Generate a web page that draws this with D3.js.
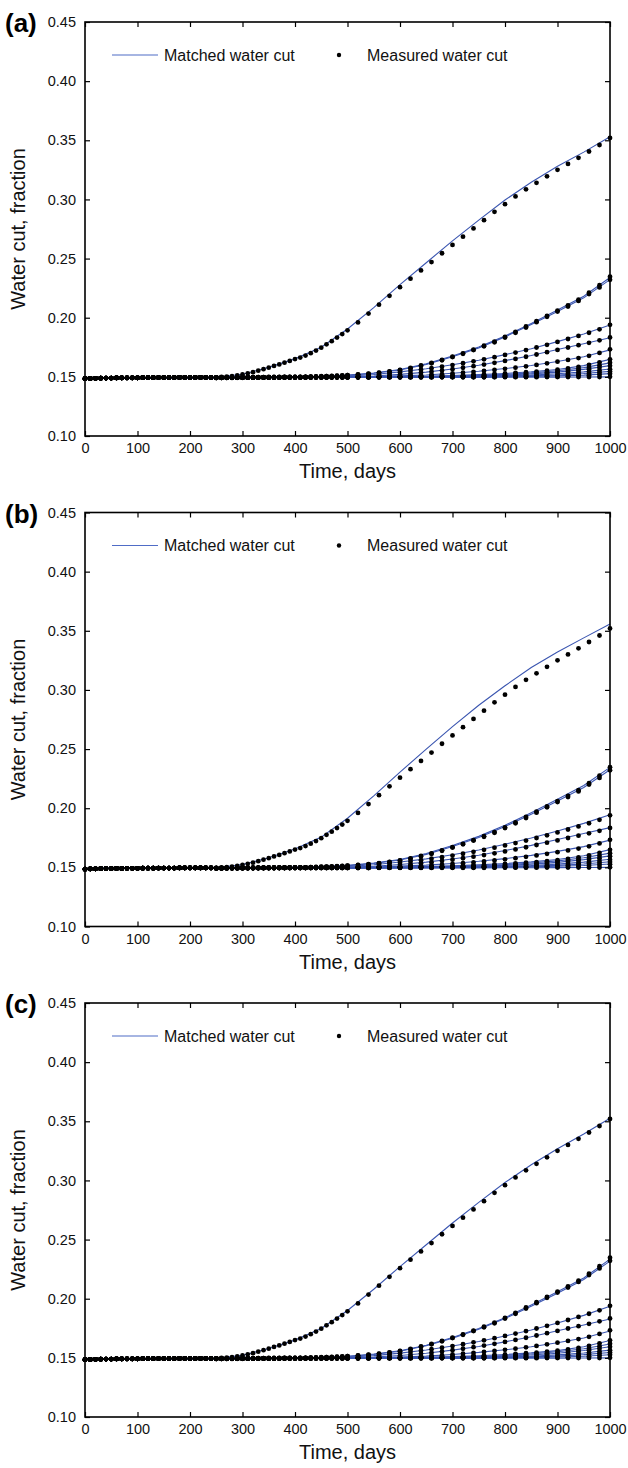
<!DOCTYPE html>
<html><head><meta charset="utf-8">
<script src="https://cdn.jsdelivr.net/npm/d3@7"></script>
<style>body{margin:0;background:#fff;} svg text{font-family:"Liberation Sans",Arial,sans-serif;}</style>
</head><body><svg id="c" width="628" height="1468"></svg>
<script>
const panelLabels = ["(a)", "(b)", "(c)"];
const xTicks = [0, 100, 200, 300, 400, 500, 600, 700, 800, 900, 1000];
const yTicks = [0.10, 0.15, 0.20, 0.25, 0.30, 0.35, 0.40, 0.45];
const legendLabels = ["Matched water cut", "Measured water cut"];
const xTitle = "Time, days";
const yTitle = "Water cut, fraction";

// measured days: shared early period (all wells coincide) and late period
const earlyDays = [0,10,20,30,40,50,60,70,80,90,100,110,120,130,140,150,160,170,180,190,200,210,220,230,240];
const earlyValues = [.1485,.1487,.1488,.1489,.1490,.1490,.1491,.1491,.1492,.1492,.1492,.1493,.1493,.1493,.1494,.1494,.1494,.1494,.1495,.1495,.1495,.1495,.1495,.1495,.1495];
const lateDays = [250,260,270,280,290,300,310,320,330,340,350,360,370,380,390,400,410,420,430,440,450,460,470,480,490,500,
  520,540,560,580,600,620,640,660,680,700,720,740,760,780,800,820,840,860,880,900,920,940,960,980,1000];

const measured1 = [.1495,.1500,.1502,.1506,.1512,.1520,.1530,.1540,.1552,.1565,.1578,.1592,.1605,.1620,.1635,.1650,.1663,.1680,.1700,.1722,.1747,.1775,.1802,.1832,.1862,.1893,
  .1960,.2035,.2110,.2185,.2258,.2330,.2400,.2470,.2545,.2615,.2685,.2755,.2825,.2895,.2960,.3025,.3085,.3140,.3195,.3250,.3300,.3352,.3405,.3460,.3520];
const measured2 = [.1495,.1495,.1496,.1496,.1497,.1497,.1497,.1498,.1498,.1498,.1499,.1499,.1499,.1500,.1500,.1500,.1500,.1500,.1502,.1503,.1505,.1506,.1508,.1510,.1512,.1515,
  .1521,.1528,.1536,.1546,.1558,.1575,.1596,.1618,.1644,.1671,.1699,.1730,.1763,.1798,.1838,.1880,.1926,.1970,.2015,.2060,.2105,.2152,.2212,.2275,.2347];
const measured3 = [.1494,.1494,.1495,.1495,.1496,.1496,.1496,.1497,.1497,.1497,.1498,.1498,.1498,.1499,.1499,.1499,.1499,.1500,.1501,.1502,.1503,.1505,.1507,.1509,.1511,.1514,
  .1519,.1526,.1534,.1544,.1556,.1572,.1592,.1614,.1640,.1667,.1695,.1726,.1758,.1792,.1832,.1873,.1917,.1962,.2008,.2052,.2095,.2142,.2200,.2256,.2320];
const measured4 = [.1494,.1494,.1494,.1495,.1495,.1495,.1495,.1496,.1496,.1496,.1496,.1497,.1497,.1497,.1498,.1498,.1498,.1499,.1499,.1500,.1500,.1501,.1502,.1503,.1504,.1505,
  .1510,.1516,.1523,.1531,.1540,.1550,.1561,.1573,.1586,.1600,.1615,.1631,.1648,.1666,.1685,.1705,.1726,.1748,.1771,.1795,.1820,.1846,.1873,.1902,.1940];
const measured5 = [.1494,.1494,.1494,.1494,.1495,.1495,.1495,.1495,.1495,.1496,.1496,.1496,.1496,.1497,.1497,.1497,.1497,.1498,.1498,.1498,.1499,.1499,.1499,.1500,.1500,.1500,
  .1502,.1505,.1509,.1514,.1520,.1527,.1535,.1544,.1554,.1565,.1577,.1590,.1604,.1619,.1635,.1652,.1670,.1689,.1709,.1728,.1748,.1768,.1788,.1809,.1833];
const measured6 = [.1493,.1493,.1494,.1494,.1494,.1494,.1495,.1495,.1495,.1495,.1495,.1496,.1496,.1496,.1496,.1497,.1497,.1497,.1497,.1498,.1498,.1498,.1498,.1499,.1499,.1499,
  .1500,.1501,.1502,.1504,.1507,.1510,.1514,.1518,.1523,.1529,.1535,.1542,.1550,.1559,.1568,.1578,.1589,.1601,.1614,.1628,.1643,.1659,.1678,.1702,.1733];
const measured7 = [.1493,.1493,.1493,.1494,.1494,.1494,.1494,.1495,.1495,.1495,.1495,.1495,.1496,.1496,.1496,.1496,.1496,.1497,.1497,.1497,.1497,.1498,.1498,.1498,.1498,.1499,
  .1499,.1500,.1500,.1501,.1502,.1503,.1505,.1507,.1509,.1511,.1514,.1517,.1521,.1525,.1529,.1534,.1539,.1545,.1552,.1560,.1571,.1585,.1602,.1623,.1648];
const measured8 = [.1493,.1493,.1493,.1493,.1494,.1494,.1494,.1494,.1495,.1495,.1495,.1495,.1495,.1496,.1496,.1496,.1496,.1496,.1497,.1497,.1497,.1497,.1497,.1498,.1498,.1498,
  .1499,.1499,.1500,.1500,.1501,.1502,.1503,.1504,.1505,.1507,.1509,.1511,.1514,.1517,.1520,.1524,.1528,.1533,.1540,.1548,.1557,.1567,.1580,.1598,.1620];
const measured9 = [.1492,.1493,.1493,.1493,.1493,.1494,.1494,.1494,.1494,.1495,.1495,.1495,.1495,.1495,.1496,.1496,.1496,.1496,.1496,.1496,.1497,.1497,.1497,.1497,.1497,.1497,
  .1498,.1499,.1499,.1500,.1500,.1501,.1501,.1502,.1503,.1504,.1505,.1507,.1509,.1511,.1514,.1517,.1521,.1525,.1531,.1537,.1545,.1554,.1564,.1577,.1593];
const measured10 = [.1492,.1492,.1493,.1493,.1493,.1493,.1494,.1494,.1494,.1494,.1494,.1495,.1495,.1495,.1495,.1495,.1495,.1496,.1496,.1496,.1496,.1496,.1496,.1497,.1497,.1497,
  .1498,.1498,.1499,.1499,.1499,.1500,.1500,.1500,.1501,.1501,.1502,.1503,.1504,.1505,.1507,.1509,.1511,.1514,.1518,.1523,.1528,.1535,.1543,.1553,.1565];
const measured11 = [.1492,.1492,.1492,.1493,.1493,.1493,.1493,.1494,.1494,.1494,.1494,.1494,.1495,.1495,.1495,.1495,.1495,.1495,.1495,.1496,.1496,.1496,.1496,.1496,.1496,.1496,
  .1497,.1497,.1498,.1498,.1498,.1499,.1499,.1499,.1500,.1500,.1500,.1501,.1501,.1502,.1503,.1504,.1505,.1507,.1510,.1513,.1517,.1522,.1528,.1536,.1546];
const measured12 = [.1491,.1492,.1492,.1492,.1493,.1493,.1493,.1493,.1493,.1494,.1494,.1494,.1494,.1494,.1494,.1495,.1495,.1495,.1495,.1495,.1495,.1495,.1496,.1496,.1496,.1496,
  .1496,.1496,.1497,.1497,.1497,.1497,.1498,.1498,.1498,.1498,.1499,.1499,.1499,.1499,.1500,.1500,.1501,.1502,.1503,.1504,.1506,.1509,.1513,.1519,.1527];
const measured13 = [.1491,.1491,.1492,.1492,.1492,.1492,.1493,.1493,.1493,.1493,.1493,.1493,.1494,.1494,.1494,.1494,.1494,.1494,.1494,.1494,.1494,.1494,.1494,.1494,.1494,.1494,
  .1494,.1494,.1495,.1495,.1495,.1495,.1495,.1495,.1496,.1496,.1496,.1496,.1496,.1497,.1497,.1497,.1497,.1497,.1498,.1498,.1498,.1498,.1499,.1499,.1500];
const measuredSeries = [measured1,measured2,measured3,measured4,measured5,measured6,measured7,measured8,measured9,measured10,measured11,measured12,measured13];

// matched (simulated) water cut
const matchedDays = [0,250,300,350,400,450,500,550,600,650,700,750,800,850,900,950,1000];
const matchedA = [
  [.1490,.1497,.1522,.1580,.1652,.1750,.1905,.2085,.2280,.2465,.2650,.2825,.2995,.3145,.3280,.3400,.3530],
  [.1490,.1496,.1498,.1499,.1501,.1505,.1515,.1533,.1562,.1610,.1676,.1752,.1845,.1952,.2065,.2182,.2340],
  [.1490,.1495,.1497,.1498,.1500,.1503,.1512,.1530,.1558,.1605,.1670,.1745,.1838,.1942,.2052,.2168,.2322],
  [.1490,.1495,.1496,.1497,.1498,.1500,.1506,.1520,.1542,.1568,.1602,.1640,.1688,.1738,.1798,.1862,.1938],
  [.1490,.1495,.1495,.1496,.1497,.1498,.1501,.1507,.1521,.1540,.1567,.1598,.1637,.1680,.1731,.1780,.1830],
  [.1490,.1494,.1495,.1495,.1496,.1497,.1499,.1502,.1508,.1516,.1530,.1547,.1570,.1596,.1630,.1670,.1728],
  [.1490,.1494,.1494,.1495,.1495,.1496,.1498,.1500,.1502,.1505,.1511,.1519,.1529,.1543,.1562,.1595,.1648],
  [.1490,.1494,.1494,.1495,.1495,.1496,.1497,.1499,.1501,.1503,.1506,.1512,.1521,.1534,.1552,.1578,.1618],
  [.1490,.1494,.1494,.1494,.1495,.1495,.1496,.1498,.1500,.1501,.1503,.1508,.1515,.1525,.1540,.1563,.1595],
  [.1490,.1493,.1494,.1494,.1494,.1495,.1496,.1497,.1498,.1500,.1501,.1504,.1509,.1515,.1526,.1542,.1566],
  [.1490,.1493,.1493,.1494,.1494,.1495,.1495,.1496,.1497,.1498,.1500,.1502,.1505,.1509,.1516,.1528,.1546],
  [.1490,.1493,.1493,.1494,.1494,.1494,.1495,.1495,.1496,.1497,.1498,.1499,.1501,.1503,.1508,.1515,.1527],
  [.1490,.1493,.1493,.1493,.1494,.1494,.1494,.1495,.1495,.1495,.1496,.1496,.1497,.1497,.1498,.1499,.1500]
];
const matchedB = [
  [.1490,.1497,.1523,.1582,.1656,.1756,.1915,.2105,.2305,.2500,.2690,.2870,.3035,.3190,.3320,.3440,.3558],
  [.1490,.1496,.1498,.1499,.1501,.1506,.1517,.1537,.1567,.1617,.1684,.1762,.1855,.1962,.2075,.2192,.2345],
  [.1490,.1495,.1497,.1498,.1500,.1504,.1514,.1533,.1562,.1610,.1676,.1752,.1845,.1950,.2060,.2175,.2325],
  [.1490,.1495,.1496,.1497,.1498,.1500,.1507,.1522,.1545,.1572,.1607,.1647,.1696,.1748,.1808,.1872,.1945],
  [.1490,.1495,.1495,.1496,.1497,.1498,.1502,.1509,.1524,.1544,.1571,.1603,.1642,.1686,.1736,.1786,.1836],
  [.1490,.1494,.1495,.1495,.1496,.1497,.1499,.1503,.1510,.1519,.1533,.1551,.1574,.1601,.1635,.1675,.1730],
  [.1490,.1494,.1494,.1495,.1495,.1496,.1498,.1500,.1503,.1507,.1513,.1521,.1532,.1546,.1566,.1598,.1650],
  [.1490,.1494,.1494,.1495,.1495,.1496,.1497,.1499,.1501,.1504,.1508,.1514,.1523,.1537,.1555,.1581,.1620],
  [.1490,.1494,.1494,.1494,.1495,.1495,.1496,.1498,.1500,.1502,.1504,.1509,.1517,.1527,.1542,.1565,.1597],
  [.1490,.1493,.1494,.1494,.1494,.1495,.1496,.1497,.1498,.1500,.1502,.1505,.1510,.1516,.1527,.1544,.1568],
  [.1490,.1493,.1493,.1494,.1494,.1495,.1495,.1496,.1497,.1498,.1500,.1502,.1505,.1510,.1517,.1529,.1547],
  [.1490,.1493,.1493,.1494,.1494,.1494,.1495,.1495,.1496,.1497,.1498,.1499,.1501,.1504,.1509,.1516,.1528],
  [.1490,.1493,.1493,.1493,.1494,.1494,.1494,.1495,.1495,.1495,.1496,.1496,.1497,.1497,.1498,.1499,.1500]
];
const matchedC = [
  [.1490,.1497,.1521,.1579,.1650,.1748,.1900,.2080,.2272,.2456,.2640,.2815,.2982,.3132,.3268,.3392,.3525],
  [.1490,.1496,.1498,.1499,.1501,.1505,.1514,.1532,.1560,.1607,.1672,.1748,.1840,.1946,.2058,.2175,.2335],
  [.1490,.1495,.1497,.1498,.1500,.1503,.1511,.1529,.1556,.1602,.1666,.1741,.1833,.1937,.2047,.2163,.2318],
  [.1490,.1495,.1496,.1497,.1498,.1500,.1506,.1519,.1540,.1566,.1600,.1638,.1685,.1735,.1795,.1859,.1936],
  [.1490,.1495,.1495,.1496,.1497,.1498,.1501,.1507,.1520,.1539,.1565,.1596,.1635,.1678,.1729,.1778,.1829],
  [.1490,.1494,.1495,.1495,.1496,.1497,.1499,.1502,.1507,.1515,.1529,.1546,.1568,.1594,.1628,.1668,.1727],
  [.1490,.1494,.1494,.1495,.1495,.1496,.1498,.1500,.1502,.1505,.1510,.1518,.1528,.1542,.1561,.1594,.1647],
  [.1490,.1494,.1494,.1495,.1495,.1496,.1497,.1499,.1501,.1503,.1506,.1511,.1520,.1533,.1551,.1577,.1617],
  [.1490,.1494,.1494,.1494,.1495,.1495,.1496,.1498,.1500,.1501,.1503,.1507,.1514,.1524,.1539,.1562,.1594],
  [.1490,.1493,.1494,.1494,.1494,.1495,.1496,.1497,.1498,.1499,.1501,.1504,.1508,.1514,.1525,.1541,.1565],
  [.1490,.1493,.1493,.1494,.1494,.1495,.1495,.1496,.1497,.1498,.1499,.1501,.1504,.1508,.1515,.1527,.1545],
  [.1490,.1493,.1493,.1494,.1494,.1494,.1495,.1495,.1496,.1497,.1498,.1499,.1501,.1503,.1507,.1514,.1526],
  [.1490,.1493,.1493,.1493,.1494,.1494,.1494,.1495,.1495,.1495,.1496,.1496,.1497,.1497,.1498,.1499,.1500]
];
const matchedSets = [matchedA, matchedB, matchedC];

// ---- layout ----
const plotLeft = 85, plotRight = 610, plotH = 414;
const panelTops = [22, 512.5, 1003];
const lineColor = "#3a55b0";
const FONT = '"Liberation Sans", Arial, sans-serif';

const svg = d3.select("#c");
const allDays = earlyDays.concat(lateDays);

panelTops.forEach((top, pi) => {
  const g = svg.append("g");
  const bottom = top + plotH;
  const x = d3.scaleLinear().domain([0, 1000]).range([plotLeft, plotRight]);
  const y = d3.scaleLinear().domain([0.10, 0.45]).range([bottom, top]);

  // matched lines
  const line = d3.line().x(d => x(d[0])).y(d => y(d[1]));
  matchedSets[pi].forEach(series => {
    g.append("path")
      .datum(matchedDays.map((d, i) => [d, series[i]]).filter(d => d[1] != null))
      .attr("d", line).attr("fill", "none")
      .attr("stroke", lineColor).attr("stroke-width", 1.1);
  });

  // measured dots
  measuredSeries.forEach(series => {
    const vals = earlyValues.concat(series);
    g.append("g").selectAll("circle")
      .data(allDays.map((d, i) => [d, vals[i]]).filter(d => d[1] != null))
      .join("circle")
      .attr("cx", d => x(d[0])).attr("cy", d => y(d[1]))
      .attr("r", 2.4).attr("fill", "#000");
  });

  const styleAxis = sel => {
    sel.select(".domain").remove();
    sel.selectAll(".tick line").attr("stroke", "#000").attr("stroke-width", 1.2);
    sel.selectAll("text").attr("fill", "#111").attr("font-size", "14.5px").attr("font-family", FONT);
  };

  g.append("g").attr("transform", `translate(0,${bottom})`)
    .call(d3.axisBottom(x).tickValues(xTicks).tickSizeInner(-5).tickSizeOuter(0).tickPadding(7).tickFormat(d3.format("d")))
    .call(styleAxis);
  g.append("g").attr("transform", `translate(0,${top})`)
    .call(d3.axisTop(x).tickValues(xTicks).tickSizeInner(-5).tickSizeOuter(0).tickFormat(""))
    .call(styleAxis);
  g.append("g").attr("transform", `translate(${plotLeft},0)`)
    .call(d3.axisLeft(y).tickValues(yTicks).tickSizeInner(-5).tickSizeOuter(0).tickPadding(9).tickFormat(d3.format(".2f")))
    .call(styleAxis);
  g.append("g").attr("transform", `translate(${plotRight},0)`)
    .call(d3.axisRight(y).tickValues(yTicks).tickSizeInner(-5).tickSizeOuter(0).tickFormat(""))
    .call(styleAxis);

  g.append("rect").attr("x", plotLeft).attr("y", top)
    .attr("width", plotRight - plotLeft).attr("height", plotH)
    .attr("fill", "none").attr("stroke", "#000").attr("stroke-width", 1.6);

  // legend
  const ly = top + 33;
  g.append("line").attr("x1", 112).attr("x2", 158).attr("y1", ly).attr("y2", ly)
    .attr("stroke", "#4f6cc6").attr("stroke-width", 1.2);
  g.append("text").attr("x", 164).attr("y", ly + 5.5).attr("font-size", "16px").attr("fill", "#111").text(legendLabels[0]);
  g.append("circle").attr("cx", 339).attr("cy", ly).attr("r", 2.2).attr("fill", "#000");
  g.append("text").attr("x", 367).attr("y", ly + 5.5).attr("font-size", "16px").attr("fill", "#111").text(legendLabels[1]);

  // titles
  g.append("text").attr("x", (plotLeft + plotRight) / 2).attr("y", bottom + 42)
    .attr("text-anchor", "middle").attr("font-size", "20px").attr("fill", "#111").text(xTitle);
  g.append("text").attr("transform", `translate(25,${(top + bottom) / 2}) rotate(-90)`)
    .attr("text-anchor", "middle").attr("font-size", "20px").attr("fill", "#111").text(yTitle);
  g.append("text").attr("x", 5).attr("y", top + 10).attr("font-size", "26px")
    .attr("font-weight", "bold").attr("fill", "#000").text(panelLabels[pi]);
});
</script>
</body></html>
